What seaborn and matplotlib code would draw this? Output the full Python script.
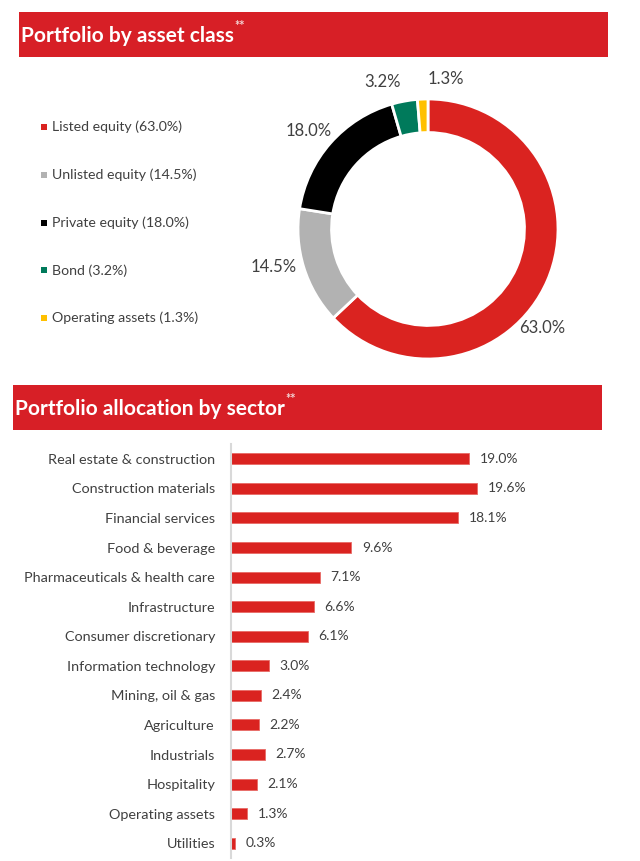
import matplotlib
matplotlib.use("Agg")
import matplotlib.pyplot as plt
import seaborn as sns
import pandas as pd
from matplotlib.patches import Rectangle

# ---------------- data ----------------
asset_classes = ["Listed equity", "Unlisted equity", "Private equity", "Bond", "Operating assets"]
asset_shares = [63.0, 14.5, 18.0, 3.2, 1.3]
asset_colors = ["#DA2320", "#B2B2B2", "#000000", "#007A5B", "#FFC000"]

sectors = ["Real estate & construction", "Construction materials", "Financial services",
           "Food & beverage", "Pharmaceuticals & health care", "Infrastructure",
           "Consumer discretionary", "Information technology", "Mining, oil & gas",
           "Agriculture", "Industrials", "Hospitality", "Operating assets", "Utilities"]
sector_shares = [19.0, 19.6, 18.1, 9.6, 7.1, 6.6, 6.1, 3.0, 2.4, 2.2, 2.7, 2.1, 1.3, 0.3]

title_top = "Portfolio by asset class"
title_bottom = "Portfolio allocation by sector"

# ---------------- style ----------------
sns.set_theme(style="white")
plt.rcParams["font.family"] = ["Lato", "DejaVu Sans"]

RED = "#DA2320"
HEADER_RED = "#D71F26"
TEXT = "#404040"

W, H = 640, 861
fig = plt.figure(figsize=(W / 100, H / 100), dpi=100)


def px_axes(x0, y0, x1, y1):
    return fig.add_axes([x0 / W, 1 - y1 / H, (x1 - x0) / W, (y1 - y0) / H])


headers = []


def header(x0, y0, x1, y1, text):
    fig.patches.append(Rectangle((x0 / W, 1 - y1 / H), (x1 - x0) / W, (y1 - y0) / H,
                                 transform=fig.transFigure, facecolor=HEADER_RED,
                                 edgecolor="none", zorder=0))
    t = fig.text((x0 + 2) / W, 1 - ((y0 + y1) / 2 + 1.5) / H, text, color="white",
                 fontsize=15, fontweight="bold", va="center", ha="left")
    headers.append((t, y0, y1))


header(19, 12, 608, 57, title_top)
header(13, 385, 602, 430, title_bottom)

# ---------------- donut ----------------
cx, cy, r = 428, 229, 130
lim = 1.5
side = 2 * r * lim
axd = px_axes(cx - side / 2, cy - side / 2, cx + side / 2, cy + side / 2)
axd.pie(asset_shares, colors=asset_colors, startangle=90, counterclock=False, radius=1,
        wedgeprops=dict(width=0.258, edgecolor="white", linewidth=2))
axd.set_xlim(-lim, lim)
axd.set_ylim(-lim, lim)
axd.set_aspect("equal")
axd.axis("off")

label_pos = [(0.88, -0.765), (-1.19, -0.29), (-0.92, 0.755), (-0.35, 1.13), (0.14, 1.15)]
for v, (lx, ly) in zip(asset_shares, label_pos):
    axd.text(lx, ly, f"{v:.1f}%", ha="center", va="center", fontsize=12, color=TEXT)

# ---------------- legend ----------------
axl = px_axes(0, 95, 250, 350)
axl.set_xlim(0, 250)
axl.set_ylim(350, 95)
axl.axis("off")
for i, (name, v, c) in enumerate(zip(asset_classes, asset_shares, asset_colors)):
    yy = 127 + i * 47.75
    axl.scatter([44], [yy], marker="s", s=18, color=c, linewidths=0)
    axl.text(52, yy, f"{name} ({v:.1f}%)", ha="left", va="center", fontsize=10.2, color=TEXT)

# ---------------- bars ----------------
x0b, x1b = 231, 620
axb = px_axes(x0b, 444, x1b, 858)
df = pd.DataFrame({"sector": sectors, "share": sector_shares})
sns.barplot(data=df, x="share", y="sector", orient="h", color=RED, width=0.37,
            saturation=1, ax=axb, edgecolor="#E86A66", linewidth=0.6)
axb.set_xlim(0, (x1b - x0b) / 12.55)
axb.set_xlabel("")
axb.set_ylabel("")
axb.set_xticks([])
for s in ["top", "right", "bottom"]:
    axb.spines[s].set_visible(False)
axb.spines["left"].set_color("#D9D9D9")
axb.spines["left"].set_linewidth(1.5)
axb.tick_params(axis="y", length=0, pad=11.5, labelsize=10.4, labelcolor=TEXT)
for cont in axb.containers:
    axb.bar_label(cont, fmt="%.1f%%", padding=7.5, fontsize=10, color=TEXT)

# superscript stars after the header titles
fig.canvas.draw()
renderer = fig.canvas.get_renderer()
for t, y0, y1 in headers:
    bb = t.get_window_extent(renderer)
    fig.text((bb.x1 + 0.5) / W, 1 - (y0 + 14) / H, "**", color="#F4D6D6",
             fontsize=9, fontweight="bold", ha="left", va="center")

fig.savefig("out.png", dpi=100)
